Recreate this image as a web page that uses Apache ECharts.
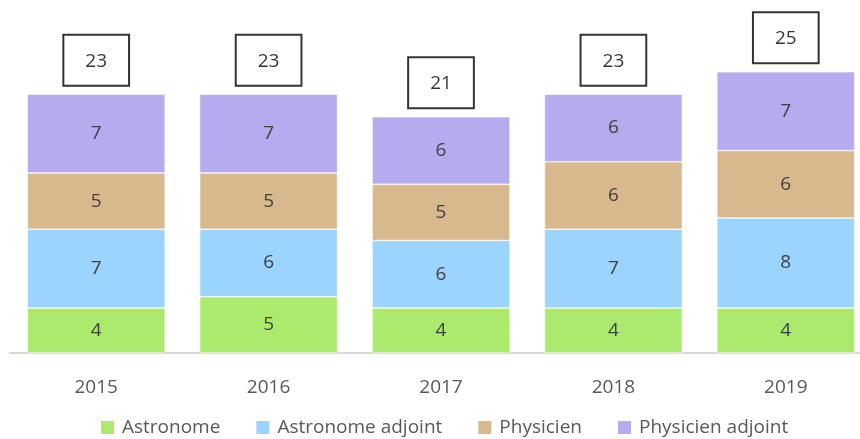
<!DOCTYPE html>
<html>
<head>
<meta charset="utf-8">
<script src="https://cdn.jsdelivr.net/npm/echarts@6/dist/echarts.min.js"></script>
<style>
  html, body { margin: 0; padding: 0; background: #fff; overflow: hidden; }
  /* le graphique d'origine déborde un peu à droite */
  #chart { width: 872px; height: 439px; }
</style>
</head>
<body>
<div id="chart"></div>
<script>
var years = ['2015', '2016', '2017', '2018', '2019'];
var astronome = [4, 5, 4, 4, 4];
var astronomeAdjoint = [7, 6, 6, 7, 8];
var physicien = [5, 5, 5, 6, 6];
var physicienAdjoint = [7, 7, 6, 6, 7];

// totaux affichés dans les cadres au-dessus des barres
var totals = [];
for (var i = 0; i < years.length; i++) {
    totals.push(astronome[i] + astronomeAdjoint[i] + physicien[i] + physicienAdjoint[i]);
}

var font = 'Open Sans';

function barSeries(name, data, color) {
    return {
        name: name,
        type: 'bar',
        stack: 'total',
        barCategoryGap: '20%',
        data: data,
        itemStyle: { color: color, borderColor: '#ffffff', borderWidth: 0.6 },
        label: {
            show: true,
            position: 'inside',
            color: '#404040',
            fontSize: 19,
            fontFamily: font
        },
        emphasis: { disabled: true }
    };
}

var myChart = echarts.init(document.getElementById('chart'));
var option = {
    animation: false,
    grid: {
        left: 10,
        right: 0,
        top: 15.5,
        bottom: 86
    },
    legend: {
        bottom: -3,
        left: 94,
        itemWidth: 15,
        itemHeight: 15,
        itemGap: 34,
        icon: 'rect',
        data: ['Astronome', 'Astronome adjoint', 'Physicien', 'Physicien adjoint'],
        textStyle: { color: '#595959', fontSize: 19, fontFamily: font, padding: [0, 0, 0, 2] }
    },
    xAxis: {
        type: 'category',
        data: years,
        axisLine: { lineStyle: { color: '#d9d9d9', width: 2 } },
        axisTick: { show: false },
        axisLabel: { color: '#595959', fontSize: 19, fontFamily: font, margin: 25 }
    },
    yAxis: {
        type: 'value',
        min: 0,
        max: 30,
        show: false,
        splitLine: { show: false }
    },
    series: [
        barSeries('Astronome', astronome, '#acea6d'),
        barSeries('Astronome adjoint', astronomeAdjoint, '#9bd4fe'),
        barSeries('Physicien', physicien, '#d8b98e'),
        barSeries('Physicien adjoint', physicienAdjoint, '#b5abee'),
        {
            name: 'Total',
            type: 'scatter',
            data: totals,
            symbolSize: 1,
            itemStyle: { color: 'rgba(0,0,0,0)' },
            label: {
                show: true,
                position: 'top',
                distance: 8,
                color: '#000000',
                fontSize: 19,
                fontFamily: font,
                borderColor: '#000000',
                borderWidth: 2,
                padding: [17, 22, 15, 22]
            },
            emphasis: { disabled: true }
        }
    ]
};
myChart.setOption(option);
</script>
</body>
</html>
